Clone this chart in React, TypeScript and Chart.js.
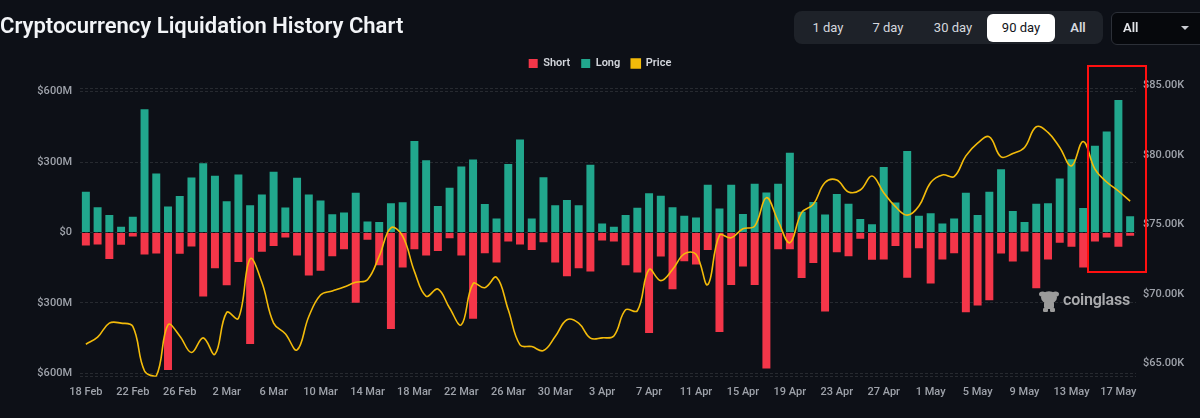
import React, { useEffect, useRef } from "react";
import { Chart, registerables } from "chart.js";

Chart.register(...registerables);

// Daily categories
const dates = [
  "18 Feb", "19 Feb", "20 Feb", "21 Feb", "22 Feb", "23 Feb", "24 Feb", "25 Feb", "26 Feb", "27 Feb", "28 Feb",
  "1 Mar", "2 Mar", "3 Mar", "4 Mar", "5 Mar", "6 Mar", "7 Mar", "8 Mar", "9 Mar", "10 Mar",
  "11 Mar", "12 Mar", "13 Mar", "14 Mar", "15 Mar", "16 Mar", "17 Mar", "18 Mar", "19 Mar", "20 Mar",
  "21 Mar", "22 Mar", "23 Mar", "24 Mar", "25 Mar", "26 Mar", "27 Mar", "28 Mar", "29 Mar", "30 Mar", "31 Mar",
  "1 Apr", "2 Apr", "3 Apr", "4 Apr", "5 Apr", "6 Apr", "7 Apr", "8 Apr", "9 Apr", "10 Apr",
  "11 Apr", "12 Apr", "13 Apr", "14 Apr", "15 Apr", "16 Apr", "17 Apr", "18 Apr", "19 Apr", "20 Apr",
  "21 Apr", "22 Apr", "23 Apr", "24 Apr", "25 Apr", "26 Apr", "27 Apr", "28 Apr", "29 Apr", "30 Apr",
  "1 May", "2 May", "3 May", "4 May", "5 May", "6 May", "7 May", "8 May", "9 May", "10 May",
  "11 May", "12 May", "13 May", "14 May", "15 May", "16 May", "17 May", "18 May",
];

// Dates that get a label on the x axis
const xTickLabels = [
  "18 Feb", "22 Feb", "26 Feb", "2 Mar", "6 Mar", "10 Mar", "14 Mar", "18 Mar", "22 Mar", "26 Mar",
  "30 Mar", "3 Apr", "7 Apr", "11 Apr", "15 Apr", "19 Apr", "23 Apr", "27 Apr", "1 May", "5 May",
  "9 May", "13 May", "17 May",
];

// Short liquidations, $M (negative = below zero)
const shortLiq = [
  -55, -51, -113, -52, -17, -94, -89, -586, -91, -60,
  -272, -152, -225, -126, -475, -82, -58, -21, -98, -183,
  -163, -101, -71, -299, -31, -139, -411, -149, -71, -98,
  -79, -24, -98, -367, -88, -128, -38, -51, -74, -41,
  -128, -186, -152, -166, -34, -38, -139, -170, -428, -102,
  -242, -122, -136, -74, -424, -224, -145, -224, -579, -71,
  -71, -194, -130, -336, -84, -101, -27, -116, -115, -58,
  -193, -67, -217, -115, -88, -340, -311, -289, -89, -123,
  -81, -237, -115, -44, -61, -149, -38, -21, -61, -14,
];

// Long liquidations, $M
const longLiq = [
  174, 108, 74, 24, 67, 525, 251, 111, 155, 234,
  295, 242, 133, 247, 116, 162, 259, 106, 233, 162,
  136, 78, 85, 169, 47, 45, 125, 129, 390, 308,
  113, 191, 281, 311, 121, 60, 292, 396, 60, 235,
  116, 138, 116, 288, 38, 24, 74, 105, 167, 156,
  108, 71, 64, 203, 102, 203, 79, 208, 170, 208,
  340, 88, 130, 77, 164, 122, 57, 35, 279, 128,
  347, 71, 82, 38, 60, 169, 74, 174, 269, 92,
  45, 122, 125, 230, 312, 104, 369, 430, 564, 69,
];

// Price, $K
const price = [
  66.37, 66.88, 67.89, 67.89, 67.65, 64.44, 64.08, 67.77, 66.97, 65.77,
  66.83, 65.65, 68.66, 68.23, 72.52, 70.83, 67.89, 67.12, 65.96, 68.37,
  69.92, 70.21, 70.50, 70.83, 71.02, 72.71, 74.76, 74.16, 71.62, 69.82,
  70.35, 68.98, 67.77, 70.73, 70.44, 71.19, 68.85, 66.32, 66.20, 65.91,
  66.92, 68.13, 67.89, 66.81, 66.83, 66.97, 68.85, 68.78, 71.75, 70.95,
  71.75, 72.88, 72.85, 70.66, 74.21, 74.04, 74.69, 74.88, 76.93, 75.24,
  73.68, 75.85, 76.45, 78.02, 78.20, 77.34, 77.48, 78.49, 77.29, 76.28,
  75.67, 76.33, 78.02, 78.57, 78.45, 79.94, 80.86, 81.31, 79.87, 80.11,
  80.55, 82.04, 81.63, 80.55, 79.22, 80.98, 78.98, 78.06, 77.41, 76.68,
];

// Axis ticks
const liqTicks = [-600, -300, 0, 300, 600];
const liqBounds = [-614, 614];
const priceTicks = [65, 70, 75, 80, 85];
const priceBounds = [64.03, 84.81];

const RED = "#f43649";
const TEAL = "#21a78d";
const GOLD = "#f3bb0a";
const BG = "#0d1017";
const AXIS_TEXT = "#9ea2aa";
const FONT = "Roboto, 'Noto Sans', sans-serif";

const tabs = ["1 day", "7 day", "30 day", "90 day", "All"];
const tabCenters = [828, 888, 953, 1021, 1078];

function LiquidationChart() {
  const ref = useRef<HTMLCanvasElement>(null);

  useEffect(() => {
    // extra room between the legend row and the plot
    const legendGap = {
      id: "legendGap",
      beforeLayout(chart: any) {
        const lg = chart.legend;
        if (lg && !lg.__gap) {
          const fit = lg.fit;
          lg.fit = function () {
            fit.call(this);
            this.height += 9.3;
          };
          lg.__gap = true;
        }
      },
    };

    const chart = new Chart(ref.current as HTMLCanvasElement, {
      type: "bar",
      data: {
        labels: dates,
        datasets: [
          {
            type: "bar",
            label: "Short",
            data: shortLiq,
            backgroundColor: RED,
            borderWidth: 0,
            yAxisID: "y",
            stack: "liq",
            order: 1,
            barPercentage: 0.68,
            categoryPercentage: 1,
          },
          {
            type: "bar",
            label: "Long",
            data: longLiq,
            backgroundColor: TEAL,
            borderWidth: 0,
            yAxisID: "y",
            stack: "liq",
            order: 1,
            barPercentage: 0.68,
            categoryPercentage: 1,
          },
          {
            type: "line",
            label: "Price",
            data: price,
            yAxisID: "y1",
            borderColor: GOLD,
            backgroundColor: GOLD,
            borderWidth: 1.6,
            pointRadius: 0,
            tension: 0.4,
            fill: false,
            order: 0,
          },
        ] as any,
      },
      options: {
        responsive: false,
        animation: false,
        devicePixelRatio: 1,
        layout: { padding: { top: 47, left: 0, right: 0, bottom: 0 } },
        plugins: {
          tooltip: { enabled: false },
          legend: {
            position: "top",
            align: "center",
            labels: {
              boxWidth: 9,
              boxHeight: 9,
              padding: 11,
              color: "#d3d6dc",
              font: { family: FONT, size: 11, weight: "600" as any },
              sort: (a: any, b: any) => a.datasetIndex - b.datasetIndex,
            },
          },
        },
        scales: {
          x: {
            stacked: true,
            offset: true,
            grid: { display: false, drawTicks: false },
            border: { display: false },
            ticks: {
              autoSkip: false,
              maxRotation: 0,
              minRotation: 0,
              padding: 9,
              color: AXIS_TEXT,
              font: { family: FONT, size: 11, weight: "500" as any },
              callback: (_v: any, i: number) => (xTickLabels.includes(dates[i]) ? dates[i] : ""),
            },
            afterFit: (s: any) => {
              s.height = 41.3;
            },
          },
          y: {
            position: "left",
            stacked: true,
            min: liqBounds[0],
            max: liqBounds[1],
            afterBuildTicks: (s: any) => {
              s.ticks = [liqBounds[0], ...liqTicks, liqBounds[1]].map((v) => ({ value: v }));
            },
            grid: { color: "rgba(255,255,255,0.11)", lineWidth: 1, drawTicks: false },
            border: { display: false, dash: [3, 2] },
            ticks: {
              padding: 8,
              color: AXIS_TEXT,
              font: { family: FONT, size: 11, weight: "500" as any },
              callback: (v: any) => (liqTicks.includes(v) ? `$${Math.abs(v)}${v === 0 ? "" : "M"}` : ""),
            },
            afterFit: (s: any) => {
              s.width = 80;
            },
          },
          y1: {
            position: "right",
            min: priceBounds[0],
            max: priceBounds[1],
            afterBuildTicks: (s: any) => {
              s.ticks = priceTicks.map((v) => ({ value: v }));
            },
            grid: { drawOnChartArea: false, drawTicks: false },
            border: { display: false },
            ticks: {
              padding: 7,
              color: AXIS_TEXT,
              font: { family: FONT, size: 11, weight: "500" as any },
              callback: (v: any) => `$${Number(v).toFixed(2)}K`,
            },
            afterFit: (s: any) => {
              s.width = 64;
            },
          },
        },
      } as any,
      plugins: [legendGap],
    });

    return () => chart.destroy();
  }, []);

  return (
    <canvas
      ref={ref}
      width={1200}
      height={418}
      style={{ position: "absolute", left: 0, top: 0, width: 1200, height: 418, display: "block" }}
    />
  );
}

function Mascot() {
  return (
    <svg width="20" height="23" viewBox="0 0 20 23" style={{ position: "absolute", left: 1039, top: 290 }}>
      <g fill="#9b9b9b">
        <ellipse cx="3.5" cy="4" rx="3.5" ry="2.6" />
        <ellipse cx="16.5" cy="4" rx="3.5" ry="2.6" />
        <ellipse cx="10" cy="7.5" rx="8" ry="6.2" />
        <rect x="5" y="11" width="10" height="8" rx="2.5" />
        <rect x="4" y="18" width="5" height="4" rx="1.2" />
        <rect x="11" y="18" width="5" height="4" rx="1.2" />
      </g>
    </svg>
  );
}

export default function App() {
  return (
    <div style={{ position: "relative", width: 1200, height: 418, background: BG, overflow: "hidden", fontFamily: FONT }}>
      <style>{`html,body{margin:0;padding:0;background:${BG};}`}</style>
      <LiquidationChart />

      <div
        style={{
          position: "absolute",
          left: 0,
          top: 15,
          fontSize: 22,
          lineHeight: "22px",
          fontWeight: 600,
          color: "#f2f4f7",
          whiteSpace: "nowrap",
        }}
      >
        Cryptocurrency Liquidation History Chart
      </div>

      <div
        style={{
          position: "absolute",
          left: 794,
          top: 11,
          width: 309,
          height: 33,
          borderRadius: 8,
          background: "#1e2229",
        }}
      />
      <div
        style={{
          position: "absolute",
          left: 987,
          top: 13.5,
          width: 68,
          height: 28.5,
          borderRadius: 6,
          background: "#ffffff",
        }}
      />
      {tabs.map((t, i) => (
        <div
          key={t}
          style={{
            position: "absolute",
            left: tabCenters[i],
            top: 19,
            transform: "translateX(-50%)",
            fontSize: 13,
            lineHeight: "17px",
            fontWeight: t === "All" ? 600 : 400,
            color: t === "90 day" ? "#111318" : "#d5d8de",
            whiteSpace: "nowrap",
          }}
        >
          {t}
        </div>
      ))}

      <div
        style={{
          position: "absolute",
          left: 1111,
          top: 12,
          width: 110,
          height: 31,
          borderRadius: 6,
          border: "1px solid #2c3038",
          background: "#06080c",
        }}
      />
      <div
        style={{
          position: "absolute",
          left: 1123,
          top: 19,
          fontSize: 13,
          lineHeight: "17px",
          fontWeight: 600,
          color: "#e3e5e9",
        }}
      >
        All
      </div>
      <div
        style={{
          position: "absolute",
          left: 1181,
          top: 26,
          width: 0,
          height: 0,
          borderLeft: "4px solid transparent",
          borderRight: "4px solid transparent",
          borderTop: "4px solid #c9ccd2",
        }}
      />

      <Mascot />
      <div
        style={{
          position: "absolute",
          left: 1063,
          top: 290,
          fontSize: 16,
          lineHeight: "20px",
          fontWeight: 600,
          color: "#a9aaad",
          letterSpacing: -0.2,
        }}
      >
        coinglass
      </div>

      <div
        style={{
          position: "absolute",
          left: 1087,
          top: 65,
          width: 60,
          height: 208,
          boxSizing: "border-box",
          border: "2.5px solid #ff1010",
          pointerEvents: "none",
        }}
      />
    </div>
  );
}
